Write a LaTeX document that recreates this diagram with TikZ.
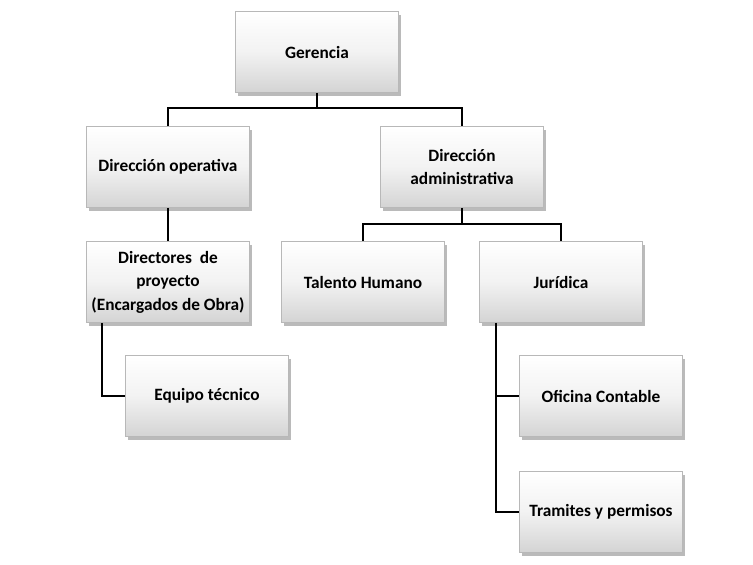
\documentclass[tikz,border=0pt]{standalone}
\usepackage{fontspec}
\setmainfont{Carlito}
\usetikzlibrary{shadows}
\begin{document}
\begin{tikzpicture}[x=1pt,y=-1pt,
  box/.style={rectangle, minimum width=163pt, minimum height=81pt, inner sep=2pt,
    top color=white, bottom color=black!17, middle color=black!5, draw=black!28, line width=0.8pt,
    drop shadow={shadow xshift=2pt, shadow yshift=-3pt, fill=black!45, opacity=0.6},
    align=center, font=\fontsize{17.3}{23}\selectfont\bfseries},
  conn/.style={draw=black, line width=1.7pt}]
\useasboundingbox (0,0) rectangle (753,565);
\node[box] (ger) at (317,52) {Gerencia};
\node[box] (dop) at (168,167) {Dirección operativa};
\node[box] (dad) at (462,167) {Dirección\\administrativa};
\node[box] (dirp) at (168,282) {Directores \ de\\proyecto\\[1pt](Encargados de Obra)};
\node[box] (tal) at (363,282) {Talento Humano};
\node[box] (jur) at (561,282) {Jurídica};
\node[box] (eq) at (207,396) {Equipo técnico};
\node[box] (ofi) at (601,396) {Oficina Contable};
\node[box] (tra) at (601,512) {Tramites y permisos};
\coordinate (h1) at (0,108);
\coordinate (h2) at (0,224);
\draw[conn] (ger.south) -- (ger.south |- h1);
\draw[conn] (dop.north) -- (dop.north |- h1) -- (dad.north |- h1) -- (dad.north);
\draw[conn] (dop.south) -- (dirp.north);
\draw[conn] (dad.south) -- (dad.south |- h2);
\draw[conn] (tal.north) -- (tal.north |- h2) -- (jur.north |- h2) -- (jur.north);
\draw[conn] ([xshift=16pt]dirp.south west) |- (eq.west);
\draw[conn] ([xshift=17pt]jur.south west) |- (ofi.west);
\draw[conn] ([xshift=17pt]jur.south west) |- (tra.west);
\end{tikzpicture}
\end{document}
